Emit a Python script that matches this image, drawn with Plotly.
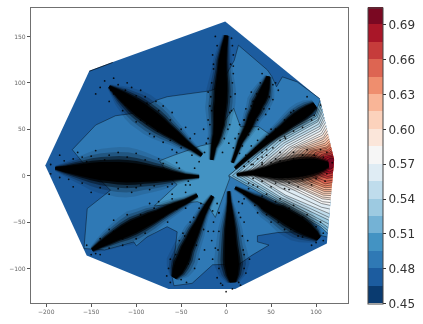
import math
import plotly.graph_objects as go

# ---- colour levels (contour bands) ----
band_edges = [0.45, 0.465, 0.48, 0.495, 0.51, 0.525, 0.54, 0.555, 0.57, 0.585,
              0.60, 0.615, 0.63, 0.645, 0.66, 0.675, 0.69, 0.705]
band_colors = ["#0a3b70", "#1c5c9f", "#2f79b5", "#4393c3", "#74b2d5", "#9dcae1",
               "#bfdcec", "#dfecf4", "#f6f6f6", "#fbe6da", "#fcd2bc", "#f9b597",
               "#ef8e6e", "#dd6552", "#c63c3b", "#a91628", "#7a0822"]
colorbar_ticks = [0.45, 0.48, 0.51, 0.54, 0.57, 0.60, 0.63, 0.66, 0.69]
x_ticks = [-200, -150, -100, -50, 0, 50, 100]
y_ticks = [-100, -50, 0, 50, 100, 150]

# ---- sampled domain outline ----
hull_x = [-1, 104, 120, 112, 10, -64, -155, -201, -152, -125]
hull_y = [166, 83, 17, -73, -122, -122, -86, 11, 113, 122.7]

# ---- contour 0.48 ----
level_048_x = [112, 86, 57, 34.8, 34.8, 47.7, 29, 15, -15, -37.8, -58, -60, -54.4, -65.6, -87.8,
               -99.7, -102.7, -135, -158, -154.4, -128.5, -145, -160, -171, -145, -123, -104,
               -77, -65.5, -17.5, -8, 9, 13.7, 46, 50.7, 56, 62.5, 79, 104]
level_048_y = [-66, -60, -61.3, -64.8, -71.3, -74.8, -85.6, -95, -96, -116, -118.6, -109, -60.5, -55, -66,
               -75.6, -71.3, -80, -78.5, -35.5, -15.7, 0, 15, 28, 54.5, 64.5, 67,
               81.4, 85, 91.4, 95, 124, 140.5, 113.7, 107, 95.7, 106.4, 101, 83]

# ---- contour 0.495 ----
level_0495_x = [-74, -58, -28.5, -15.5, -5, 8.4, 16, 36, 53, 3, 4, -4.4, -12, -20, -32, -60,
                -79.7, -54.4, -62, -74]
level_0495_y = [16, 22, 32, 35, 55, 72.5, 52.7, 52.7, 41.5, 0, -3, -26, -45, -33, -28, -31,
                -32.5, -9.6, -3, 16]

# ---- thin contour sliver along the upper-left edge ----
sliver_x = [-152, -126]
sliver_y = [112.5, 122]

# ---- fan contours, value = 0.51 + k * 0.0075, outermost first ----
fan_x = [
    [104.5, 99, 53, 3, 53, 105, 112.8],
    [105.2, 100, 56, 7, 56, 105, 113],
    [106, 101, 58, 11, 58, 105, 113.5],
    [106.7, 102, 60, 15, 60, 105, 113.8],
    [107.4, 102, 62, 20, 62, 106, 114.2],
    [108.1, 103, 64, 24, 64, 106, 114.5],
    [108.8, 104, 66, 28, 66, 106, 114.9],
    [109.6, 104, 68, 32, 68, 106, 115.3],
    [110.3, 105, 70, 36, 70, 106, 115.6],
    [111, 106, 73, 41, 73, 107, 116],
    [111.8, 107, 76, 46, 76, 107, 116.2],
    [112.5, 108, 79, 50, 79, 107, 116.4],
    [113.2, 108, 82, 55, 82, 108, 116.6],
    [113.9, 109, 85, 59, 85, 108, 116.8],
    [114.5, 110, 88, 63, 88, 109, 117],
    [115.2, 111, 91, 68, 91, 109, 117.1],
    [115.6, 112, 94, 72, 94, 110, 117.4],
    [116.1, 112, 97, 77, 97, 110, 117.6],
    [116.6, 113, 100, 82, 100, 110, 117.9],
    [117.1, 114, 103, 87, 103, 111, 118.1],
    [117.6, 114.5, 106, 92, 106, 112, 118.3],
    [118, 115, 108, 96, 108, 113, 118.5],
    [118.5, 116, 110, 100, 110, 114, 118.7],
    [119, 116.5, 112, 104, 112, 115, 119],
    [119.5, 117, 114, 108, 114, 116, 119.2],
]
fan_y = [
    [81, 66, 41, 0, -27, -55, -62],
    [78, 64, 41, 0, -27, -53, -59],
    [75, 62, 39.5, 1, -26, -50, -56],
    [72, 60, 38, 1, -25, -47, -52],
    [69, 58, 36.5, 1, -24, -44, -48],
    [66, 55.5, 35, 2, -22, -41, -45],
    [63, 53, 33.5, 2, -21, -38, -41],
    [60, 50.5, 32, 2, -17, -34, -36],
    [57, 48, 30.5, 2, -13, -30, -32],
    [54, 45.5, 30, 3, -12, -28, -29],
    [51, 43.5, 29.8, 3, -11, -25, -26],
    [48, 41, 29.5, 3, -11, -23, -24],
    [45, 39, 29, 4, -10, -21, -21.5],
    [42, 37, 28.5, 4, -9, -19, -19],
    [39.5, 35, 28, 5, -8.5, -17, -17],
    [37, 33, 27.5, 5, -8, -15, -15],
    [35, 31, 27, 7, -7, -13, -12.5],
    [33, 29.5, 26.5, 7, -6, -11, -10],
    [31, 28, 25.5, 8, -4, -9, -7.5],
    [29, 26.5, 24.5, 8, -3, -6, -5],
    [27, 25, 23, 9, -1, -3, -2],
    [25, 23.5, 22, 10, 1, -1, 0.5],
    [23, 22, 21, 10, 3, 2, 3],
    [21, 20.5, 19.5, 11, 5, 4, 6],
    [19, 19, 18, 12, 7, 7, 9],
]
fan_values = [0.51 + 0.0075 * k for k in range(25)]
hull_tip_x = 120
hull_tip_y = 17

# ---- dense point arms: centre points and local width ----
arm_x = [
    [0.3, -2, -4, -4.5, -5, -5.5, -6, -7, -7.5, -8, -9, -10, -12, -14, -16],
    [47, 45.5, 43.7, 41, 38, 36, 33, 29, 25, 20, 16, 12.5, 7],
    [99, 92, 85, 78, 71, 63.7, 56, 46, 36, 24, 10],
    [12, 20, 30, 38, 45, 52, 60, 68, 76, 84, 92, 100, 107, 114],
    [10, 20, 30, 38, 45, 52.5, 60, 68, 75, 82, 90, 99, 103],
    [3, 3.5, 4, 4.3, 4.5, 4.7, 5, 5.5, 6, 6.5, 7, 7.5],
    [-15, -21, -26, -30, -35, -40, -44, -47, -51, -54, -58],
    [-32, -45, -57, -65.5, -75, -84, -93, -103, -113, -122, -132, -140, -149],
    [-190, -180, -170, -160, -150, -140, -130, -120, -110, -100, -90, -80, -70, -60, -45, -30],
    [-130, -123, -116, -109, -102, -95, -88, -81, -73, -65, -56, -47, -38, -27],
]
arm_y = [
    [151, 138, 124, 113, 100, 92, 80, 72, 65, 55, 50, 44, 37, 30, 17],
    [107, 101, 95, 87, 81, 78, 70, 63, 53, 44, 37, 28, 14],
    [76, 71, 66.5, 62, 57, 51, 45.5, 38, 30, 20, 8],
    [1, 2, 3, 3.5, 4, 4.5, 5.5, 6.5, 7.5, 8.5, 9.5, 10.5, 11, 12],
    [-13, -18, -24, -28, -33, -37, -40, -45, -49, -53, -58, -64, -68],
    [-17, -28, -38, -47, -57, -66, -75, -82, -90, -96, -107, -115],
    [-22, -32, -41, -50, -60, -71, -79, -88, -96, -103, -110],
    [-21, -28, -33, -37, -42, -46, -50.5, -55, -60, -64.5, -70, -74.5, -80],
    [8, 7, 6.5, 6, 5.5, 5, 4.5, 4, 3.5, 3, 2.5, 1.5, 1, 0, -1, -1],
    [96, 91, 86, 81, 76, 71, 66, 61, 55, 49, 43, 36, 30, 22],
]
arm_width = [
    [3, 5, 7, 8, 10, 11, 11, 11, 10, 9, 8, 7, 6, 4, 2.5],
    [3, 5, 7, 9, 9, 9, 8, 7, 6, 5, 4, 3, 2],
    [5, 8, 9, 9, 8, 7, 6, 5, 4, 3, 2],
    [2, 3, 4, 7, 9, 12, 14, 15, 16, 16, 15, 13, 9, 4],
    [2, 3, 5, 7, 9, 10, 12, 13, 13, 13, 11, 7, 4],
    [2, 3, 5, 7, 9, 10, 11, 12, 13, 13, 10, 5],
    [2.5, 4, 5, 6, 8, 9, 10, 11, 11, 9, 4],
    [2.5, 4, 6, 7, 8, 10, 11, 12, 11, 9, 7, 5, 2.5],
    [2, 5, 8, 11, 14, 16, 17, 18, 18, 17, 15, 13, 11, 8, 4, 2],
    [2, 5, 8, 10, 12, 13, 13, 13, 12, 10, 8, 6, 4, 2.5],
]

# ---- stray points around the arms ----
stray_x = [-12, 6, 8, -14, 8, -20, 10, -18, 6, -20, 4, -15, 5, -25, -2, 3, -22,
           40, 55, 28, 52, 22, 44, 15, 36, 10, 28, 58, 30, 48, 20, 25,
           105, 90, 80, 72, 60, 50, 40, 35, 20, 15, 88, 66, 98, 45, 28,
           25, 35, 45, 60, 75, 90, 105, 112, 25, 35, 50, 65, 80, 95, 110, 40, 55, 70, 20, 118,
           30, 45, 60, 75, 90, 105, 20, 35, 50, 65, 80, 95, 108, 70, 40,
           -10, -14, -16, -15, -10, 18, 20, 24, 26, 22, 16, 0, -4, 14, -12, 19,
           -8, -14, -24, -35, -44, -30, -40, -52, -62, -66, -62, -20, -48, -30,
           -40, -60, -85, -110, -130, -155, -45, -65, -90, -115, -140, -150, -125, -75, -100,
           -195, -185, -165, -145, -120, -100, -75, -55, -185, -170, -150, -130, -105, -85, -65, -45, -160, -110, -195, -35,
           -135, -140, -125, -110, -95, -78, -60, -45, -130, -115, -100, -85, -70, -55, -120, -35, -30, -145, -128,
           -120, -112, -100, -88, -75, -62, -50, -40, -125, -112, -100, -88, -76, -62, -50, -38, -105, -90, -70, -95, -80, -60,
           -180, -170, -150, -130, -110, -90, -70, -52, -175, -160, -140, -120, -100, -80, -60, -42, -135, -95, -155,
           -140, -125, -110, -95, -80, -60, -45, -145, -130, -115, -100, -85, -70, -55, -40,
           -28, -36, -46, -56, -64, -15, -25, -33, -42, -50,
           -8, -8, -9, -8, -6, 14, 16, 18, 20, 20, 14, 7,
           25, 40, 55, 70, 85, 100, 108, 20, 32, 45, 58, 72, 85, 100,
           40, 50, 60, 75, 85, 98, 108, 30, 40, 55, 70, 85, 100, 112,
           85, 75, 65, 55, 45, 33, 22, 95, 85, 75, 65, 52, 40, 30,
           38, 34, 28, 20, 14, 8, 52, 48, 42, 35, 26, 18,
           -10, -14, -16, -17, -16, -18, -20, 7, 8, 7, 5, 4, 2, -4, -24]
stray_y = [150, 148, 130, 115, 110, 90, 88, 75, 70, 60, 55, 130, 120, 50, 40, 35, 35,
           110, 100, 90, 82, 72, 66, 55, 50, 40, 32, 92, 80, 72, 60, 44,
           76, 85, 58, 68, 38, 50, 25, 38, 10, 24, 64, 40, 65, 28, 12,
           15, 18, 22, 25, 25, 28, 28, 25, -8, -12, -12, -14, -12, -10, -6, 14, 18, -15, 10, 14,
           -10, -20, -25, -32, -42, -50, -25, -40, -50, -58, -65, -75, -70, -35, -35,
           -30, -50, -70, -90, -110, -30, -50, -70, -90, -105, -118, -125, -118, -40, -78, -80,
           -40, -60, -80, -100, -115, -35, -50, -70, -90, -108, -115, -60, -62, -90,
           -10, -20, -30, -42, -58, -75, -35, -50, -62, -75, -85, -85, -48, -28, -68,
           12, 22, 25, 27, 25, 24, 18, 14, -2, -12, -18, -20, -18, -15, -12, -10, 20, -12, 2, 8,
           102, 95, 105, 100, 92, 80, 68, 52, 80, 70, 58, 45, 36, 25, 85, 45, 15, 88, 92,
           98, 92, 86, 78, 70, 60, 50, 40, 88, 76, 66, 56, 48, 38, 30, 22, 95, 85, 75, 60, 42, 28,
           16, 18, 21, 22, 20, 17, 13, 8, -4, -8, -13, -14, -13, -11, -9, -6, 17, -10, 15,
           -68, -60, -52, -42, -35, -25, -18, -84, -78, -68, -60, -52, -44, -36, -26,
           -30, -45, -65, -85, -100, -38, -58, -75, -95, -112,
           -40, -60, -80, -100, -116, -28, -45, -65, -85, -100, -115, -122,
           -14, -22, -28, -38, -45, -55, -62, -20, -32, -42, -50, -58, -66, -72,
           12, 14, 16, 18, 22, 22, 20, -3, -6, -8, -8, -4, -3, 2,
           72, 70, 60, 50, 42, 30, 22, 60, 52, 48, 42, 30, 20, 12,
           100, 88, 75, 60, 45, 30, 98, 85, 72, 60, 48, 32,
           140, 120, 100, 85, 70, 55, 40, 140, 118, 100, 85, 68, 50, 25, 25]

AX_X0, AX_X1 = -216.9, 135.5
AX_Y0, AX_Y1 = -137.2, 180.6
FONT = "DejaVu Sans"


def band_color(value):
    for i in range(len(band_colors)):
        if band_edges[i] - 1e-9 <= value < band_edges[i + 1] - 1e-9:
            return band_colors[i]
    return band_colors[-1]


def spindle(xs, ys, ws, scale):
    """Outline of an arm: its centre points pushed out to either side by the local width."""
    left_x, left_y, right_x, right_y = [], [], [], []
    n_pts = len(xs)
    for i in range(n_pts):
        a, b = max(i - 1, 0), min(i + 1, n_pts - 1)
        dx, dy = xs[b] - xs[a], ys[b] - ys[a]
        length = math.hypot(dx, dy)
        nx, ny = -dy / length, dx / length
        half = ws[i] * scale / 2
        left_x.append(xs[i] + nx * half)
        left_y.append(ys[i] + ny * half)
        right_x.append(xs[i] - nx * half)
        right_y.append(ys[i] - ny * half)
    return left_x + right_x[::-1], left_y + right_y[::-1]


fig = go.Figure()
LINE = dict(color="rgba(0,0,0,0.75)", width=0.55)

fig.add_trace(go.Scatter(x=hull_x, y=hull_y, mode="none", fill="toself",
                         fillcolor=band_color(0.47), hoverinfo="skip"))
fig.add_trace(go.Scatter(x=sliver_x, y=sliver_y, mode="lines",
                         line=dict(color="rgba(0,0,0,0.8)", width=0.8), hoverinfo="skip"))
fig.add_trace(go.Scatter(x=level_048_x, y=level_048_y, mode="lines", fill="toself",
                         fillcolor=band_color(0.485), line=LINE, hoverinfo="skip"))
fig.add_trace(go.Scatter(x=level_0495_x, y=level_0495_y, mode="lines", fill="toself",
                         fillcolor=band_color(0.50), line=LINE, hoverinfo="skip"))

for xs, ys, v in zip(fan_x, fan_y, fan_values):
    if round((v - 0.51) / 0.0075) % 2 == 0:
        fig.add_trace(go.Scatter(x=xs[:7] + [hull_tip_x], y=ys[:7] + [hull_tip_y], mode="none",
                                 fill="toself", fillcolor=band_color(v + 1e-6), hoverinfo="skip"))
for xs, ys in zip(fan_x, fan_y):
    fig.add_trace(go.Scatter(x=xs, y=ys, mode="lines", line=LINE, hoverinfo="skip"))

# soft haze, then solid core of each arm
for scale, alpha in ((3.0, 0.1), (2.4, 0.2), (1.9, 0.4), (1.5, 0.7), (1.2, 1.0)):
    for xs, ys, ws in zip(arm_x, arm_y, arm_width):
        px, py = spindle(xs, ys, ws, scale)
        fig.add_trace(go.Scatter(x=px, y=py, mode="none", fill="toself", opacity=alpha,
                                 fillcolor="black", hoverinfo="skip"))

fig.add_trace(go.Scatter(x=stray_x, y=stray_y, mode="markers",
                         marker=dict(color="black", size=1.8, opacity=0.85, line=dict(width=0)),
                         hoverinfo="skip"))

# colour bar
n = len(band_colors)
stepped = []
for i, c in enumerate(band_colors):
    stepped += [[i / n, c], [(i + 1) / n, c]]
fig.add_trace(go.Scatter(
    x=[None], y=[None], mode="markers", hoverinfo="skip",
    marker=dict(color=[band_edges[0]], colorscale=stepped, cmin=band_edges[0], cmax=band_edges[-1],
                showscale=True,
                colorbar=dict(
                    thickness=15, thicknessmode="pixels", len=295.5, lenmode="pixels",
                    x=1.063, xanchor="left", xpad=0, y=0.5, yanchor="middle", ypad=0,
                    tickmode="array", tickvals=colorbar_ticks,
                    ticktext=[f"{t:.2f}" for t in colorbar_ticks],
                    ticks="outside", ticklen=3, tickwidth=1, tickcolor="#333",
                    tickfont=dict(family=FONT, size=12, color="#333"),
                    outlinecolor="#444", outlinewidth=1, borderwidth=0))))

axis_common = dict(showgrid=False, zeroline=False, showline=True, mirror=True, linecolor="#707070",
                   linewidth=1.2, ticks="outside", ticklen=3, tickwidth=0.8, tickcolor="#555",
                   tickfont=dict(family=FONT, size=6, color="#666"))
fig.update_layout(
    width=423, height=324, showlegend=False, paper_bgcolor="white", plot_bgcolor="white",
    margin=dict(l=30.5, r=75.3, t=7.7, b=20.7, autoexpand=False),
    xaxis=dict(range=[AX_X0, AX_X1], tickvals=x_ticks, **axis_common),
    yaxis=dict(range=[AX_Y0, AX_Y1], tickvals=y_ticks, **axis_common),
)
fig.write_html("out.html", config={"displayModeBar": False},
               post_script="document.body.style.margin='0';"
                           "document.querySelectorAll('.main-svg').forEach(function(s){s.style.filter='blur(0.6px)';});")
